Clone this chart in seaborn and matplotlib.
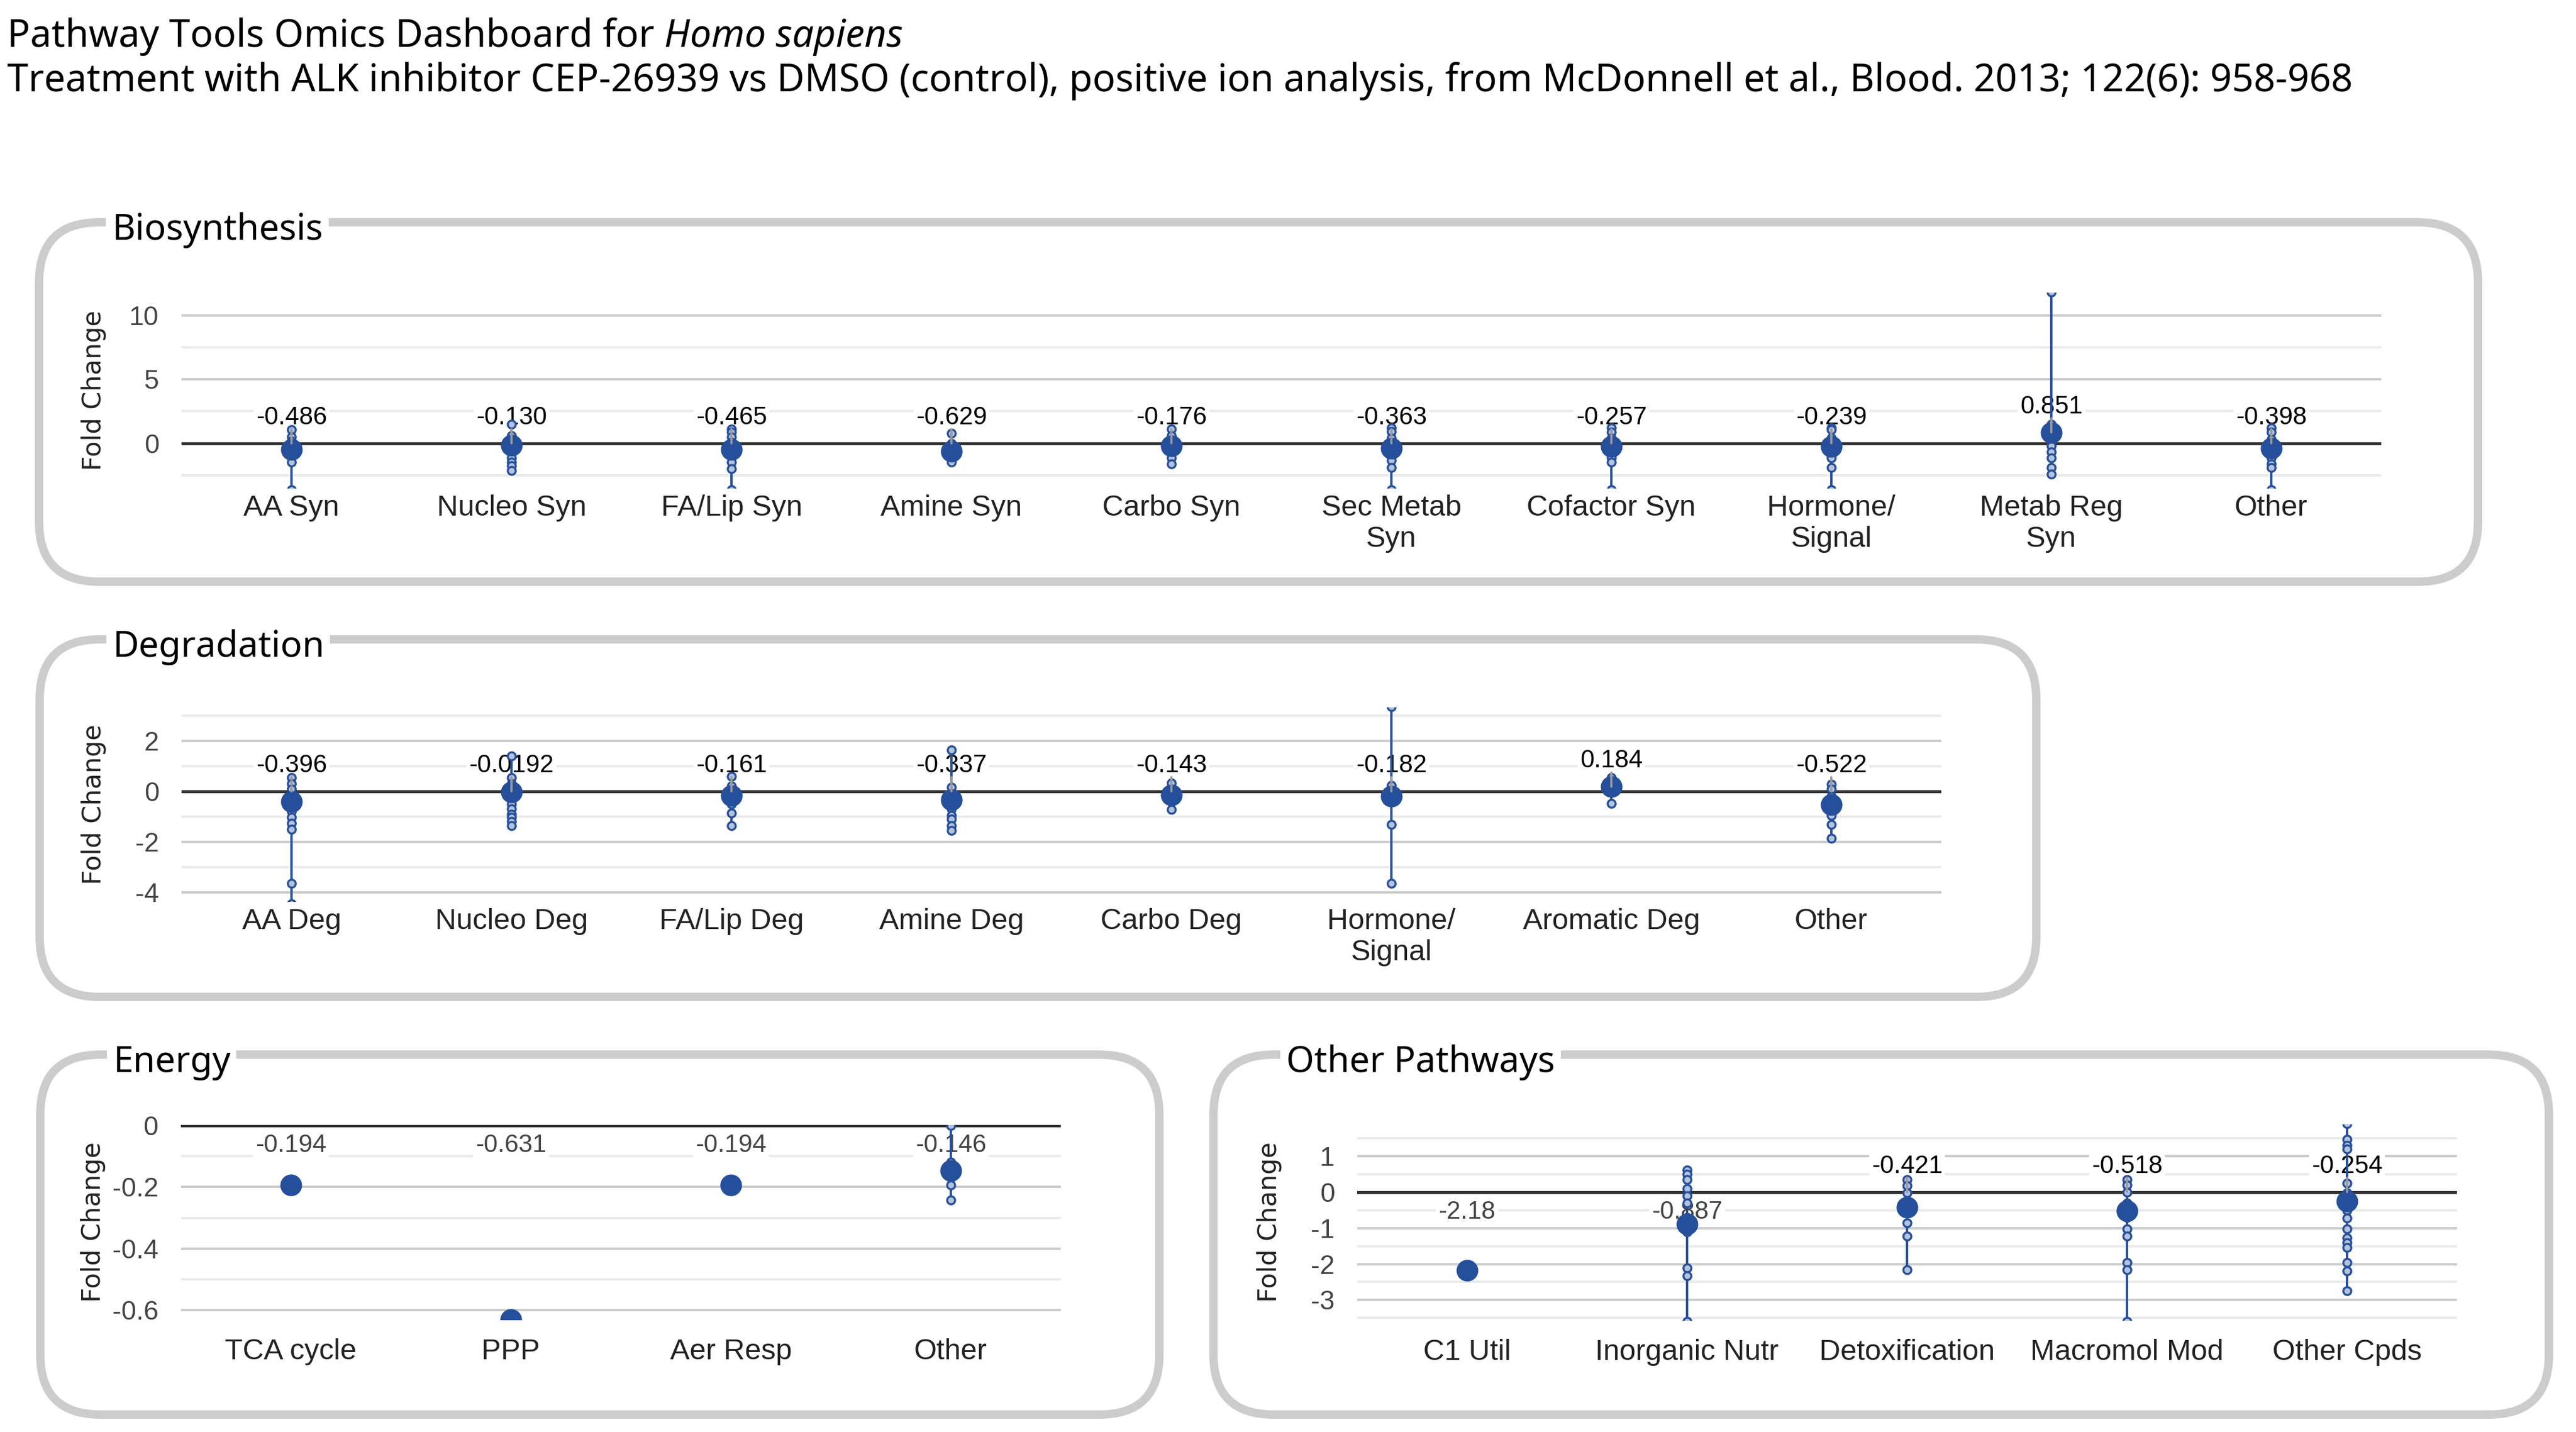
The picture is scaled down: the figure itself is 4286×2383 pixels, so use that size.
import numpy as np
import pandas as pd
import matplotlib
matplotlib.use("Agg")
import matplotlib.pyplot as plt
import seaborn as sns
from matplotlib.patches import FancyBboxPatch
from matplotlib.ticker import MultipleLocator, FuncFormatter

# Theme and fonts
sns.set_theme(style="white")
plt.rcParams['font.family'] = ['Liberation Sans', 'DejaVu Sans']
plt.rcParams['axes.unicode_minus'] = False

BLUE = "#264f9b"
LIGHT = "#b4c2dc"

# ---------------- Data ----------------
bio_cats = ["AA Syn", "Nucleo Syn", "FA/Lip Syn", "Amine Syn", "Carbo Syn",
            "Sec Metab\nSyn", "Cofactor Syn", "Hormone/\nSignal", "Metab Reg\nSyn", "Other"]
bio_means = [-0.486, -0.130, -0.465, -0.629, -0.176, -0.363, -0.257, -0.239, 0.851, -0.398]
bio_values = [
    [1.05, 0.5, 0.2, -0.1, -0.3, -0.6, -0.8, -1.0, -1.45, -3.6],
    [1.5, 0.6, 0.3, 0.0, -0.2, -0.5, -0.8, -1.15, -1.45, -1.75, -2.1],
    [1.1, 0.9, 0.5, 0.1, -0.2, -0.5, -0.8, -1.45, -2.0, -3.6],
    [0.8, 0.0, -0.3, -0.6, -0.9, -1.2, -1.45],
    [1.1, 0.6, 0.2, -0.1, -0.4, -0.7, -1.15, -1.6],
    [1.2, 0.95, 0.4, 0.0, -0.3, -0.6, -0.9, -1.3, -1.9, -3.6],
    [1.2, 0.9, 0.4, 0.0, -0.3, -0.6, -0.9, -1.15, -1.45, -3.6],
    [1.2, 1.05, 0.4, 0.0, -0.3, -0.6, -0.9, -1.15, -1.9, -3.6],
    [11.8, 1.5, 1.0, 0.6, 0.2, -0.2, -0.65, -1.15, -1.9, -2.4],
    [1.2, 0.9, 0.3, -0.1, -0.4, -0.7, -1.0, -1.15, -1.6, -1.9, -3.6],
]

deg_cats = ["AA Deg", "Nucleo Deg", "FA/Lip Deg", "Amine Deg", "Carbo Deg",
            "Hormone/\nSignal", "Aromatic Deg", "Other"]
deg_means = [-0.396, -0.0192, -0.161, -0.337, -0.143, -0.182, 0.184, -0.522]
deg_values = [
    [0.55, 0.3, 0.1, -0.2, -0.4, -0.6, -0.8, -1.03, -1.27, -1.5, -3.65, -4.45],
    [1.4, 0.55, 0.3, 0.1, -0.1, -0.3, -0.5, -0.7, -0.9, -1.03, -1.19, -1.35],
    [0.6, 0.2, -0.1, -0.3, -0.5, -0.87, -1.35],
    [1.63, 0.16, -0.1, -0.3, -0.5, -0.7, -0.95, -1.1, -1.35, -1.55],
    [0.32, 0.0, -0.2, -0.4, -0.71],
    [3.35, 0.24, -0.1, -0.4, -1.31, -3.65],
    [0.55, 0.25, 0.1, -0.48],
    [0.28, 0.1, -0.2, -0.5, -0.7, -0.95, -1.31, -1.87],
]

energy_cats = ["TCA cycle", "PPP", "Aer Resp", "Other"]
energy_means = [-0.194, -0.631, -0.194, -0.146]
energy_values = [
    [-0.194],
    [-0.631],
    [-0.194],
    [0.0, -0.12, -0.17, -0.194, -0.242],
]

other_cats = ["C1 Util", "Inorganic Nutr", "Detoxification", "Macromol Mod", "Other Cpds"]
other_means = [-2.18, -0.887, -0.421, -0.518, -0.254]
other_values = [
    [-2.18],
    [0.62, 0.5, 0.34, 0.1, -0.1, -0.3, -0.7, -0.9, -1.1, -2.1, -2.33, -3.6],
    [0.35, 0.17, -0.03, -0.3, -0.5, -0.86, -1.23, -2.16],
    [0.34, 0.2, 0.0, -0.3, -0.5, -0.7, -1.03, -1.23, -1.95, -2.16, -3.6],
    [1.9, 1.47, 1.3, 1.2, 0.24, -0.03, -0.25, -0.5, -0.72, -1.03, -1.27, -1.4,
     -1.54, -1.95, -2.19, -2.74],
]

# ---------------- Figure ----------------
W, H = 4286, 2383
fig = plt.figure(figsize=(W / 100, H / 100), dpi=100)
fig.patch.set_facecolor("white")

bg = fig.add_axes([0, 0, 1, 1], zorder=0)
bg.set_xlim(0, W)
bg.set_ylim(H, 0)
bg.axis("off")


def add_box(x0, y0, x1, y1, title):
    box = FancyBboxPatch((x0, y0), x1 - x0, y1 - y0,
                         boxstyle="round,pad=0,rounding_size=100",
                         fc="white", ec="#cccccc", lw=10)
    bg.add_patch(box)
    bg.text(x0 + 121, y0 + 29, title, fontsize=43, family="Noto Sans",
            va="baseline", ha="left", color="black",
            bbox=dict(fc="white", ec="none", pad=7))


def make_axes(left, top, right, bottom):
    return fig.add_axes([left / W, 1 - bottom / H, (right - left) / W, (bottom - top) / H], zorder=2)


def draw_panel(ax, cats, means, values, ylim, major, xpad):
    n = len(cats)
    df = pd.DataFrame([(c, v) for c, vals in zip(cats, values) for v in vals],
                      columns=["pathway", "fold"])
    mdf = pd.DataFrame({"pathway": cats, "fold": means})

    # Whiskers from min to max
    lo = [min(v) for v in values]
    hi = [max(v) for v in values]
    ax.vlines(np.arange(n), lo, hi, color=BLUE, lw=2.8, zorder=3)

    # Individual pathways and the mean
    sns.stripplot(data=df, x="pathway", y="fold", order=cats, jitter=False, ax=ax,
                  color=LIGHT, edgecolor=BLUE, linewidth=2.4, size=9.5, zorder=4)
    sns.stripplot(data=mdf, x="pathway", y="fold", order=cats, jitter=False, ax=ax,
                  color=BLUE, linewidth=0, size=26, zorder=5)

    ax.axhline(0, color="#333333", lw=3.6, zorder=2)
    ax.set_xlim(-0.5, n - 0.5)
    ax.set_ylim(*ylim)

    ax.yaxis.set_major_locator(MultipleLocator(major))
    ax.yaxis.set_minor_locator(MultipleLocator(major / 2))
    ax.yaxis.set_major_formatter(FuncFormatter(lambda v, p: f"{v:g}"))
    ax.grid(axis="y", which="major", color="#cccccc", lw=2.9)
    ax.grid(axis="y", which="minor", color="#ebebeb", lw=2.9)
    ax.xaxis.grid(False)
    ax.set_axisbelow(True)
    for s in ax.spines.values():
        s.set_visible(False)

    ax.tick_params(axis="x", length=0, pad=xpad, labelsize=35, labelcolor="#222222")
    ax.tick_params(axis="y", which="both", length=0, pad=27, labelsize=32, labelcolor="#444444")
    ax.set_xlabel("")
    ax.set_ylabel("Fold Change", fontsize=31, family="DejaVu Sans", color="#222222")
    ax_w_px = ax.get_position().width * W
    ax_h_px = ax.get_position().height * H
    ax.yaxis.set_label_coords(-125 / ax_w_px, 0.5)

    # Value labels
    span = ylim[1] - ylim[0]
    for i, m in enumerate(means):
        base = max(m, 0)
        room = (ylim[1] - base) / span * ax_h_px
        txt = f"{m:#.3g}"
        if m < -0.75 or room < 70:
            ax.annotate(txt, xy=(i, 0), xytext=(0, -24), textcoords="offset points",
                        ha="center", va="center", fontsize=30, color="#444444",
                        zorder=2.5,
                        bbox=dict(boxstyle="square,pad=0.1", fc="white", ec="none"))
        else:
            ax.annotate(txt, xy=(i, base), xytext=(0, 31), textcoords="offset points",
                        ha="center", va="center", fontsize=30, color="black",
                        zorder=2.5,
                        bbox=dict(boxstyle="square,pad=0.1", fc="white", ec="none"))
            ax.annotate("", xy=(i, base), xytext=(0, 17), textcoords="offset points",
                        arrowprops=dict(arrowstyle="-", color="#9a9a9a", lw=2.6,
                                        shrinkA=0, shrinkB=0),
                        zorder=6)


# Boxes
add_box(65, 370, 4123, 968, "Biosynthesis")
add_box(66, 1064, 3388, 1659, "Degradation")
add_box(67, 1755, 1929, 2354, "Energy")
add_box(2019, 1755, 4241, 2354, "Other Pathways")

ax_bio = make_axes(302, 487, 3962, 812)
draw_panel(ax_bio, bio_cats, bio_means, bio_values, (-3.48, 11.76), 5, 8)

ax_deg = make_axes(302, 1177, 3230, 1500)
draw_panel(ax_deg, deg_cats, deg_means, deg_values, (-4.36, 3.33), 2, 8)

ax_en = make_axes(301, 1872, 1765, 2196)
draw_panel(ax_en, energy_cats, energy_means, energy_values, (-0.631, 0.002), 0.2, 22)

ax_oth = make_axes(2258, 1871, 4088, 2197)
draw_panel(ax_oth, other_cats, other_means, other_values, (-3.56, 1.88), 1, 22)

# Titles
renderer = fig.canvas.get_renderer()
t1 = bg.text(12, 78, "Pathway Tools Omics Dashboard for", fontsize=45.5, family="Noto Sans",
             va="baseline", ha="left", color="black")
ext = t1.get_window_extent(renderer)
x_end = bg.transData.inverted().transform((ext.x1, ext.y0))[0]
bg.text(x_end + 16, 78, "Homo sapiens", fontsize=45.5, family="Noto Sans", style="italic",
        va="baseline", ha="left", color="black")
bg.text(12, 152, "Treatment with ALK inhibitor CEP-26939 vs DMSO (control), positive ion analysis, "
        "from McDonnell et al., Blood. 2013; 122(6): 958-968",
        fontsize=45.5, family="Noto Sans", va="baseline", ha="left", color="black")

fig.savefig("out.png", dpi=100, facecolor="white")
